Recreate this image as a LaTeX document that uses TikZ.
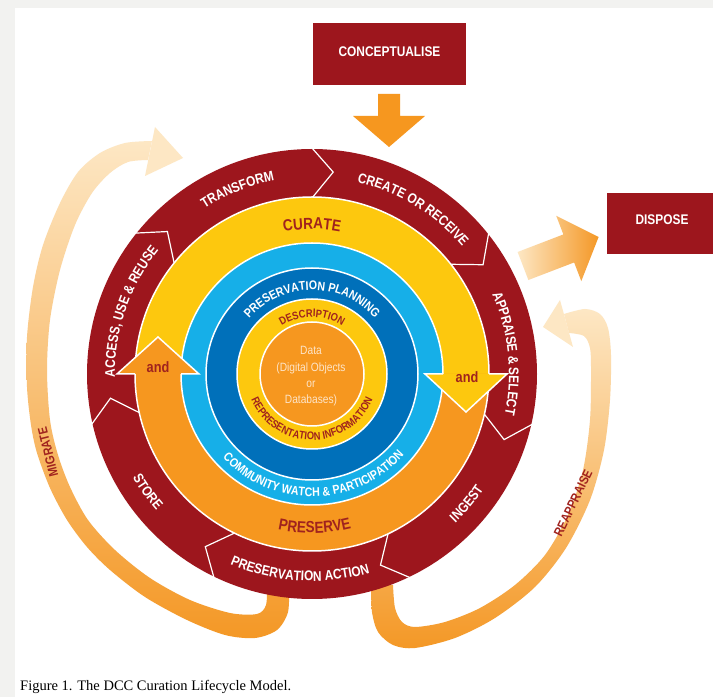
\documentclass[tikz,border=0pt]{standalone}
\usepackage{fontspec}
\setmainfont{Liberation Sans}
\newfontfamily\cond{Liberation Sans}[FakeStretch=0.85]
\newfontfamily\capfont{Liberation Serif}
\usetikzlibrary{decorations.text}

\definecolor{dccred}{RGB}{157,22,29}
\definecolor{dccyellow}{RGB}{253,200,14}
\definecolor{dccorange}{RGB}{246,151,31}
\definecolor{dcclblue}{RGB}{22,175,232}
\definecolor{dccdblue}{RGB}{0,112,186}
\definecolor{dcctext}{RGB}{160,35,30}
\definecolor{dccpale}{RGB}{253,231,196}
\definecolor{dccarr}{RGB}{244,152,38}
\definecolor{dccdata}{RGB}{253,228,200}
\definecolor{dccgrey}{RGB}{242,242,240}

\newcommand\rfont{\cond\bfseries\fontsize{14}{16}\selectfont}
\newcommand\cfont{\cond\bfseries\fontsize{16}{18}\selectfont}
\newcommand\pfont{\cond\bfseries\fontsize{12.5}{14}\selectfont}
\newcommand\dfont{\cond\bfseries\fontsize{11}{13}\selectfont}

% radius, centre angle, colour, font, text
\newcommand\cwtext[5]{%
  \path[decorate,decoration={text along path,text align=center,text color=#3,text={|#4|#5}}]
    ({#2+85}:#1) arc[start angle={#2+85}, end angle={#2-85}, radius=#1];}
\newcommand\ccwtext[5]{%
  \path[decorate,decoration={text along path,text align=center,text color=#3,text={|#4|#5}}]
    ({#2-85}:#1) arc[start angle={#2-85}, end angle={#2+85}, radius=#1];}

\begin{document}
\begin{tikzpicture}[x=1pt,y=1pt,
  box/.style={fill=dccred,inner sep=0pt,draw=none},
  boxtext/.style={text=white,font=\rfont,inner sep=0pt},
  ringline/.style={draw=white,line width=1.5pt},
  chevron/.style={draw=white,line width=1.2pt,line join=miter},
  andlabel/.style={text=dcctext,font=\cond\bfseries\fontsize{15}{17}\selectfont,inner sep=0pt},
  looplabel/.style={text=dcctext,font=\cond\bfseries\fontsize{13}{15}\selectfont,inner sep=0pt}]
\useasboundingbox (0,0) rectangle (713,697);
\fill[white] (0,0) rectangle (713,697);
\fill[dccgrey] (0,0) rectangle (15,697);
\fill[dccgrey] (0,689) rectangle (713,697);

% MIGRATE loop
\shade[top color=dccpale, bottom color=dccarr]
  plot[smooth] coordinates {(152,556) (125,554) (100,544) (78,525) (60,494) (43,452) (33,410) (27,360) (27,310) (31,272) (37,244) (50,209) (67,177) (87,150) (110,127) (145,100) (187,77) (225,62) (255,59) (277,67) (288,85) (289,112)}
  -- plot[smooth] coordinates {(267,112) (266,92) (257,83) (230,84) (190,97) (150,119) (115,147) (88,177) (70,210) (58,242) (50,277) (47,327) (50,377) (60,427) (75,472) (92,504) (110,524) (128,535) (148,537)}
  -- cycle;
\fill[dccpale] (183,539) -- (155,570) -- (145,521) -- cycle;

% REAPPRAISE loop
\shade[top color=dccpale, bottom color=dccarr]
  plot[smooth] coordinates {(564,383) (585,388) (600,383) (608,369) (611,342) (610,297) (604,247) (590,197) (566,149) (535,110) (495,79) (455,59) (415,49) (393,52) (378,65) (372,85) (371,112)}
  -- plot[smooth] coordinates {(393,112) (395,89) (402,75) (415,70) (445,75) (480,89) (515,112) (545,142) (568,182) (583,227) (590,277) (591,327) (590,349) (584,361) (569,364)}
  -- cycle;
\fill[dccpale] (543,370) -- (560,397) -- (573,350) -- cycle;

% CONCEPTUALISE and its arrow
\node[box,minimum width=153pt,minimum height=62pt] (concept) at (389.5,643) {};
\node[boxtext] (concepttext) at (389.5,645) {CONCEPTUALISE};
\fill[dccorange] (378,603) -- (400,603) -- (400,581) -- (425,581) -- (389,550) -- (353,581) -- (378,581) -- cycle;

% DISPOSE and its arrow
\node[box,minimum width=106pt,minimum height=61pt] (dispose) at (660,473.5) {};
\node[boxtext] (disposetext) at (662,477) {DISPOSE};
\begin{scope}[shift={(523,431)},rotate=21]
  \shade[left color=dccpale,right color=dccarr] (0,-15) -- (49,-15) -- (49,-35) -- (81,0) -- (49,35) -- (49,15) -- (0,15) -- cycle;
\end{scope}

% the lifecycle wheel
\begin{scope}[shift={(312,323)}]
  \fill[dccred] (0,0) circle (225);
  \foreach \k in {0,...,6}{%
    \pgfmathsetmacro\b{90-51.4286*\k}
    \pgfmathsetmacro\t{\b-6}
    \draw[chevron] (\b:226) -- (\t:203) -- (\b:176);}
  \fill[dccyellow] (0,0) circle (177);
  \fill[dccorange] (177,0) arc[start angle=0,end angle=-180,radius=177] -- cycle;
  \draw[ringline] (0,0) circle (177);
  \filldraw[ringline,fill=dcclblue] (0,0) circle (131);
  \filldraw[ringline,fill=dccdblue] (0,0) circle (106);
  \filldraw[ringline,fill=dccyellow] (0,0) circle (75);
  \filldraw[ringline,fill=dccorange] (0,0) circle (52);

  % arrow heads of CURATE / PRESERVE
  \fill[dccyellow] (113,0) -- (154,-38) -- (195,0) -- cycle;
  \draw[ringline,line join=miter] (131,0) -- (113,0) -- (154,-38) -- (195,0) -- (177,0);
  \fill[dccorange] (-113,0) -- (-154,37) -- (-195,0) -- cycle;
  \draw[ringline,line join=miter] (-131,0) -- (-113,0) -- (-154,37) -- (-195,0) -- (-177,0);
  \node[andlabel] (andR) at (155,-3) {and};
  \node[andlabel] (andL) at (-154,7) {and};

  % outer ring labels
  \cwtext{197}{112}{white}{\rfont}{TRANSFORM}
  \cwtext{197}{58.5}{white}{\rfont}{CREATE OR RECEIVE}
  \cwtext{197}{6}{white}{\rfont}{APPRAISE {\&} SELECT}
  \cwtext{197}{161}{white}{\rfont}{ACCESS, USE {\&} REUSE}
  \ccwtext{207}{-40}{white}{\rfont}{INGEST}
  \ccwtext{207}{-93.5}{white}{\rfont}{PRESERVATION ACTION}
  \ccwtext{207}{-144.4}{white}{\rfont}{STORE}

  % inner labels
  \cwtext{145}{90}{dcctext}{\cfont}{CURATE}
  \ccwtext{159}{-89}{dcctext}{\cfont}{PRESERVE}
  \cwtext{84}{90}{white}{\pfont}{PRESERVATION PLANNING}
  \ccwtext{122.5}{-89}{white}{\pfont}{COMMUNITY WATCH {\&} PARTICIPATION}
  \cwtext{57}{90}{dcctext}{\dfont}{DESCRIPTION}
  \ccwtext{66}{-90}{dcctext}{\dfont}{REPRESENTATION INFORMATION}

  \node[align=center,text=dccdata,font=\cond\fontsize{12}{16.3}\selectfont,inner sep=0pt] (data) at (-1,-2.5)
    {Data\\(Digital Objects\\or\\Databases)};
\end{scope}

\node[looplabel,rotate=104] (migrate) at (48,245) {MIGRATE};
\node[looplabel,rotate=64] (reappraise) at (573,194) {REAPPRAISE};

\node[anchor=base west,inner sep=0pt,font=\capfont\fontsize{14.5}{17}\selectfont] (caption) at (20,7)
  {Figure 1. The DCC Curation Lifecycle Model.};
\end{tikzpicture}
\end{document}
